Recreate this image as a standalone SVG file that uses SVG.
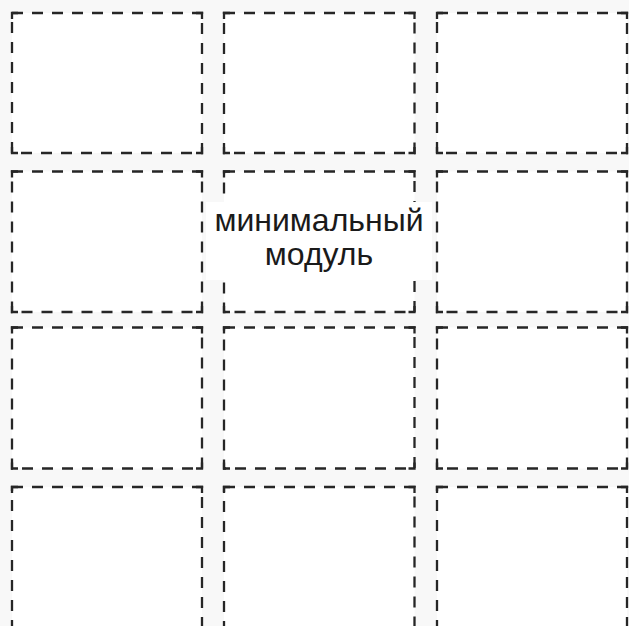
<svg xmlns="http://www.w3.org/2000/svg" width="629" height="626" viewBox="0 0 629 626">
<style>
.bg{fill:#f8f8f8}
.cell{fill:#fff;stroke:#262626;stroke-width:2.3;stroke-dasharray:11 9}
.corner{fill:none;stroke:#262626;stroke-width:2.3}
.label{font-family:"Liberation Sans",Arial,Helvetica,sans-serif;font-size:32px;fill:#1a1a1a;text-anchor:middle}
</style>
<rect class="bg" x="0" y="0" width="629" height="626"/>
<g id="cells">
<g id="r1c1"><rect class="cell" x="12" y="13" width="190" height="140"/><path class="corner" d="M12,19V13H18M196,13H202V19M202,147V153H196M18,153H12V147"/></g>
<g id="r1c2"><rect class="cell" x="224" y="13" width="190.5" height="140"/><path class="corner" d="M224,19V13H230M408.5,13H414.5V19M414.5,147V153H408.5M230,153H224V147"/></g>
<g id="r1c3"><rect class="cell" x="437" y="13" width="190" height="140"/><path class="corner" d="M437,19V13H443M621,13H627V19M627,147V153H621M443,153H437V147"/></g>

<g id="r2c1"><rect class="cell" x="12" y="171.5" width="190" height="140.5"/><path class="corner" d="M12,177.5V171.5H18M196,171.5H202V177.5M202,306V312H196M18,312H12V306"/></g>
<g id="r2c2"><rect class="cell" x="224" y="171.5" width="190.5" height="140.5"/><path class="corner" d="M224,177.5V171.5H230M408.5,171.5H414.5V177.5M414.5,306V312H408.5M230,312H224V306"/></g>
<g id="r2c3"><rect class="cell" x="437" y="171.5" width="190" height="140.5"/><path class="corner" d="M437,177.5V171.5H443M621,171.5H627V177.5M627,306V312H621M443,312H437V306"/></g>

<g id="r3c1"><rect class="cell" x="12" y="327.5" width="190" height="141"/><path class="corner" d="M12,333.5V327.5H18M196,327.5H202V333.5M202,462.5V468.5H196M18,468.5H12V462.5"/></g>
<g id="r3c2"><rect class="cell" x="224" y="327.5" width="190.5" height="141"/><path class="corner" d="M224,333.5V327.5H230M408.5,327.5H414.5V333.5M414.5,462.5V468.5H408.5M230,468.5H224V462.5"/></g>
<g id="r3c3"><rect class="cell" x="437" y="327.5" width="190" height="141"/><path class="corner" d="M437,333.5V327.5H443M621,327.5H627V333.5M627,462.5V468.5H621M443,468.5H437V462.5"/></g>

<g id="r4c1"><rect class="cell" x="12" y="487" width="190" height="142"/><path class="corner" d="M12,493V487H18M196,487H202V493"/></g>
<g id="r4c2"><rect class="cell" x="224" y="487" width="190.5" height="142"/><path class="corner" d="M224,493V487H230M408.5,487H414.5V493"/></g>
<g id="r4c3"><rect class="cell" x="437" y="487" width="190" height="142"/><path class="corner" d="M437,493V487H443M621,487H627V493"/></g>
</g>
<g id="label">
<rect x="206" y="202" width="226" height="78" fill="#fff"/>
<text class="label" x="319" y="231">минимальный</text>
<text class="label" x="319" y="265">модуль</text>
</g>
</svg>
